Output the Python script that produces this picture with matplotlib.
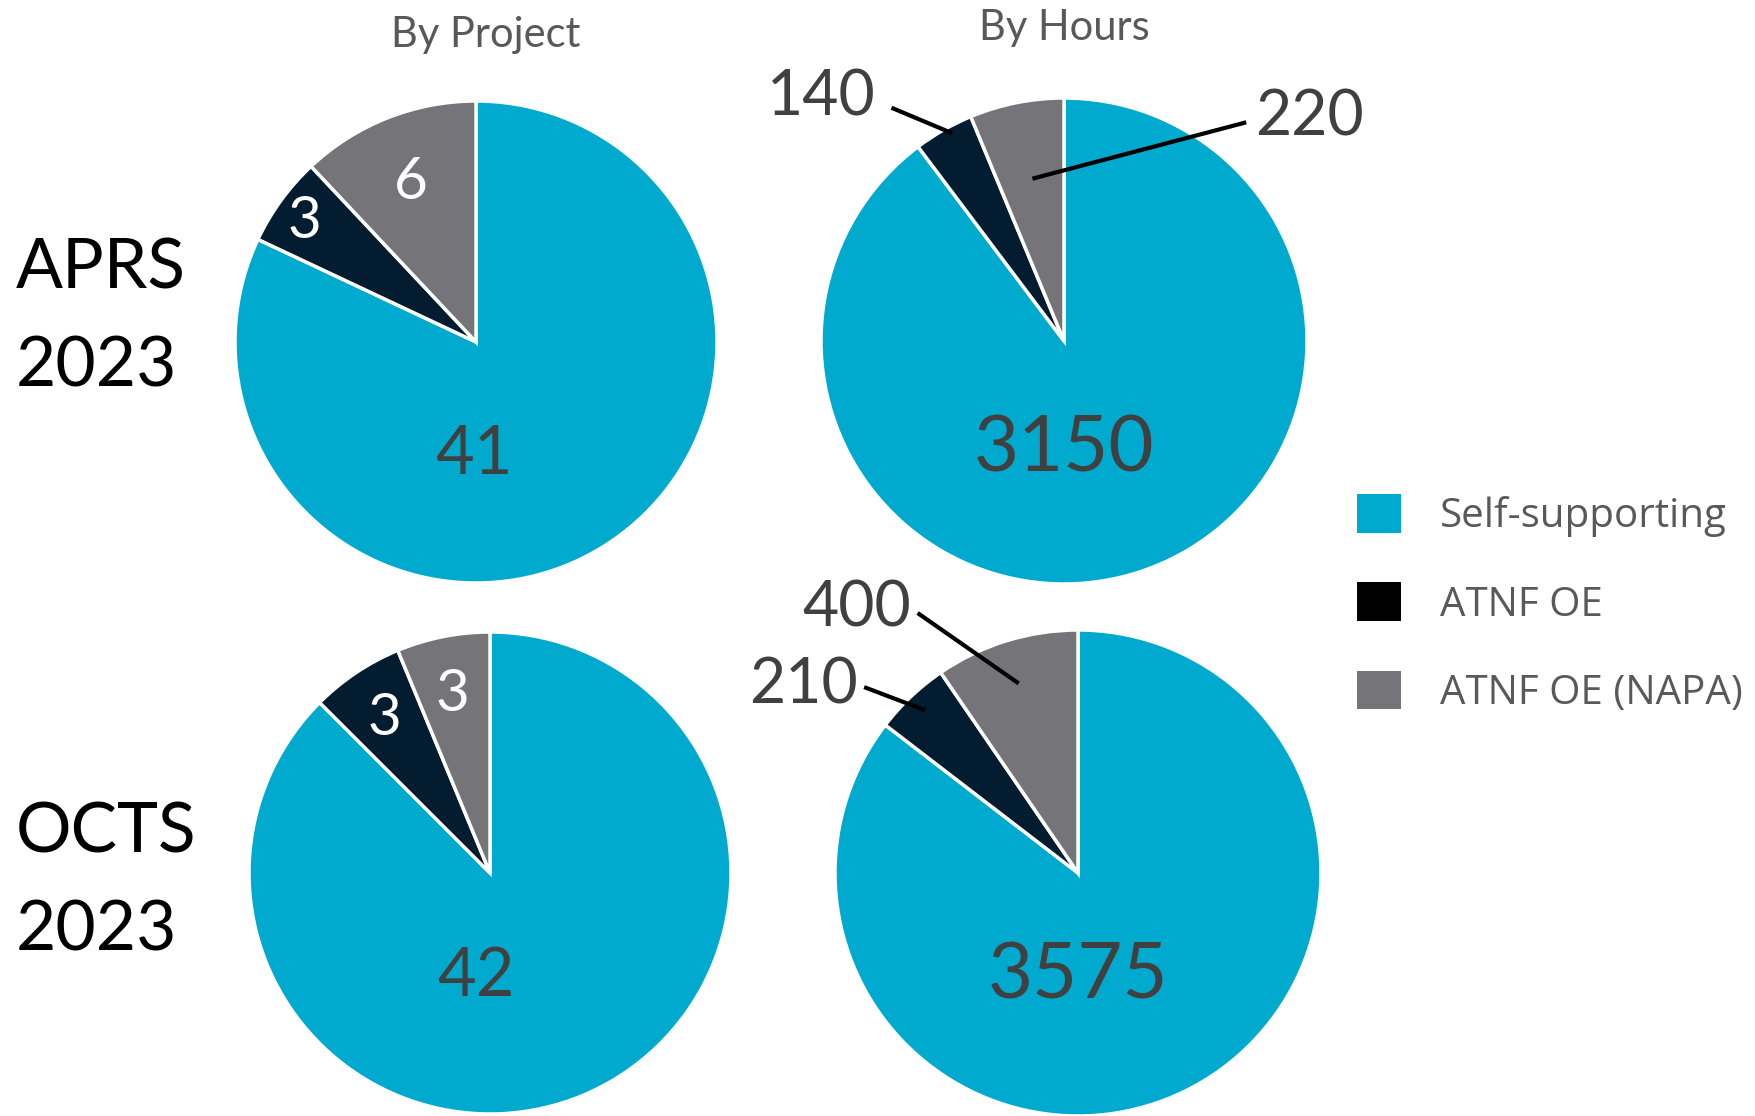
import matplotlib
matplotlib.use("Agg")
import matplotlib.pyplot as plt
from matplotlib.patches import Patch

# ---- data ----
categories = ["Self-supporting", "ATNF OE", "ATNF OE (NAPA)"]
row_labels = ["APRS\n2023", "OCTS\n2023"]
col_titles = ["By Project", "By Hours"]
aprs_projects = [41, 3, 6]
aprs_hours = [3150, 140, 220]
octs_projects = [42, 3, 3]
octs_hours = [3575, 210, 400]

colors = ["#00AACE", "#031C30", "#757579"]
legend_colors = ["#00AACE", "#000000", "#757579"]

W, H = 1755, 1116
fig = plt.figure(figsize=(W / 100, H / 100), dpi=100)
fig.patch.set_facecolor("white")

FONT = ["Lato", "DejaVu Sans"]


def pie_axes(cx, cy, r):
    ax = fig.add_axes([(cx - r) / W, (H - cy - r) / H, 2 * r / W, 2 * r / H])
    ax.set_xlim(-1, 1)
    ax.set_ylim(-1, 1)
    ax.set_aspect("equal")
    ax.axis("off")
    return ax


def draw_pie(ax, values):
    ax.pie(values, colors=colors, startangle=90, counterclock=False, radius=1,
           wedgeprops=dict(edgecolor="white", linewidth=2.5), frame=False)
    ax.set_xlim(-1, 1)
    ax.set_ylim(-1, 1)


# label placement (axes data units, pie radius = 1)
panels = [
    dict(values=aprs_projects, c=(476, 342), r=241,
         inside=[(-0.01, -0.47, 48, "#404040"), (-0.71, 0.50, 42, "white"), (-0.27, 0.66, 42, "white")],
         outside=None),
    dict(values=aprs_hours, c=(1064, 341), r=243,
         inside=[(0.0, -0.45, 56, "#404040"), None, None],
         outside=[None, ((-1.0, 1.0), (-0.71, 0.96), (-0.46, 0.855)),
                  ((1.01, 0.92), (0.75, 0.90), (-0.13, 0.668))]),
    dict(values=octs_projects, c=(490, 873), r=241,
         inside=[(-0.06, -0.43, 48, "#404040"), (-0.44, 0.64, 42, "white"), (-0.155, 0.74, 42, "white")],
         outside=None),
    dict(values=octs_hours, c=(1078, 873), r=243,
         inside=[(0.0, -0.43, 56, "#404040"), None, None],
         outside=[None, ((-1.13, 0.77), (-0.88, 0.765), (-0.63, 0.67)),
                  ((-0.91, 1.09), (-0.66, 1.07), (-0.244, 0.78))]),
]

for p in panels:
    ax = pie_axes(p["c"][0], p["c"][1], p["r"])
    draw_pie(ax, p["values"])
    for i, v in enumerate(p["values"]):
        ins = p["inside"][i]
        if ins is not None:
            x, y, fs, col = ins
            ax.text(x, y, str(v), ha="center", va="center", fontsize=fs, color=col,
                    family=FONT, clip_on=False)
        if p["outside"] is not None and p["outside"][i] is not None:
            (tx, ty), (lx0, ly0), (lx1, ly1) = p["outside"][i]
            ax.text(tx, ty, str(v), ha="center", va="center", fontsize=45, color="#404040",
                    family=FONT, clip_on=False)
            ax.plot([lx0, lx1], [ly0, ly1], color="black", lw=3, clip_on=False,
                    solid_capstyle="butt")

# column titles
fig.text(486 / W, 1 - 35 / H, col_titles[0], ha="center", va="center", fontsize=30,
         color="#595959", family=FONT)
fig.text(1064 / W, 1 - 28 / H, col_titles[1], ha="center", va="center", fontsize=30,
         color="#595959", family=FONT)

# row labels
fig.text(16 / W, 1 - 318 / H, row_labels[0], ha="left", va="center", fontsize=50,
         color="black", family=FONT, linespacing=1.68)
fig.text(16 / W, 1 - 882 / H, row_labels[1], ha="left", va="center", fontsize=50,
         color="black", family=FONT, linespacing=1.68)

# legend
handles = [Patch(facecolor=c, edgecolor="none") for c in legend_colors]
leg = fig.legend(handles, categories, loc="center left",
                 bbox_to_anchor=(1357 / W, 1 - 604 / H), frameon=False,
                 prop=dict(family=["Open Sans", "DejaVu Sans"], size=29),
                 handlelength=1.1, handleheight=1.1, handletextpad=0.95,
                 labelspacing=1.12, borderaxespad=0, borderpad=0)
for t in leg.get_texts():
    t.set_color("#595959")

fig.savefig("out.png", dpi=100, facecolor="white")
